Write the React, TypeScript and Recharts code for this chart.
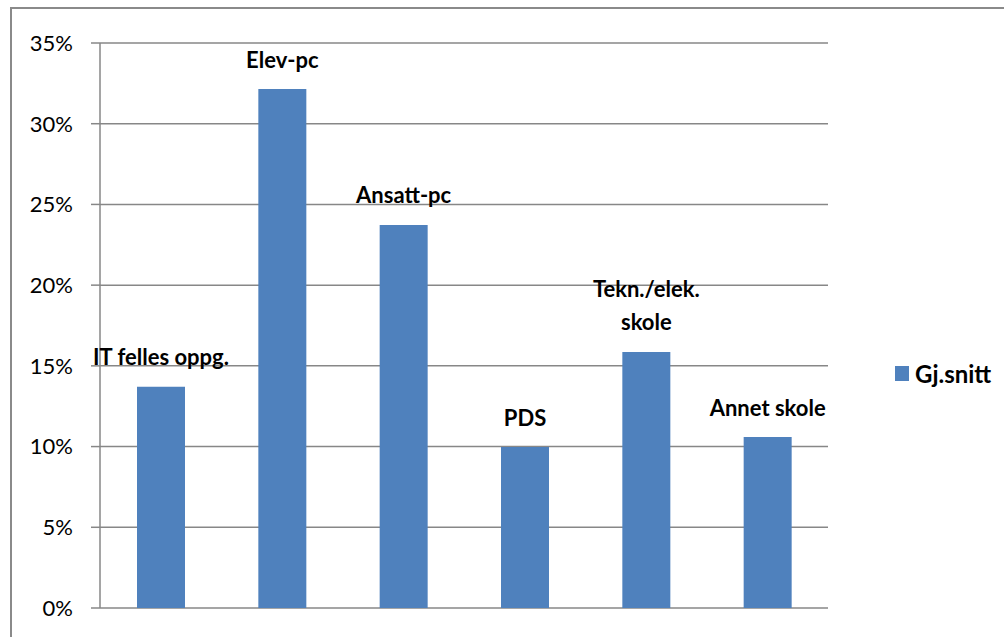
import { BarChart, Bar, XAxis, YAxis, CartesianGrid, LabelList } from "recharts";

const categories = [
  "IT felles oppg.",
  "Elev-pc",
  "Ansatt-pc",
  "PDS",
  "Tekn./elek. skole",
  "Annet skole",
];
const gjSnitt = [0.137, 0.3215, 0.2373, 0.0997, 0.1586, 0.1059];
const yTicks = [0, 0.05, 0.1, 0.15, 0.2, 0.25, 0.3, 0.35];
const seriesName = "Gj.snitt";

const data = categories.map((name, i) => ({ name, value: gjSnitt[i] }));

const FONT = "Lato, 'Open Sans', sans-serif";

const renderLabel = (props: any) => {
  const { x, y, width, value } = props;
  const text = String(value);
  let lines = [text];
  if (text.length > 15) {
    const cut = text.lastIndexOf(" ");
    lines = [text.slice(0, cut), text.slice(cut + 1)];
  }
  const cx = x + width / 2;
  return (
    <g>
      {lines.map((line, i) => (
        <text
          key={i}
          x={cx}
          y={y - 30 - (lines.length - 1 - i) * 33}
          textAnchor="middle"
          dominantBaseline="central"
          fontFamily={FONT}
          fontWeight="bold"
          fontSize={22}
          fill="#000"
        >
          {line}
        </text>
      ))}
    </g>
  );
};

export default function App() {
  return (
    <div style={{ position: "fixed", left: 0, top: 0, width: 1004, height: 637, background: "#fff", overflow: "hidden" }}>
      <div
        style={{
          position: "absolute",
          left: 10,
          top: 7,
          width: 1100,
          height: 700,
          border: "2px solid #8a8a8a",
        }}
      />
      <div style={{ position: "absolute", left: 0, top: 0 }}>
        <BarChart
          width={1004}
          height={637}
          data={data}
          margin={{ top: 43, right: 176, bottom: 29, left: 0 }}
          barSize={48}
        >
          <CartesianGrid vertical={false} stroke="#878787" strokeWidth={1.5} />
          <XAxis dataKey="name" hide />
          <YAxis
            width={100}
            domain={[0, 0.35]}
            ticks={yTicks}
            interval={0}
            tickFormatter={(v: number) => `${Math.round(v * 100)}%`}
            axisLine={{ stroke: "#878787", strokeWidth: 1.5 }}
            tickLine={{ stroke: "#878787", strokeWidth: 1.5 }}
            tickSize={9}
            tickMargin={18}
            tick={{ fill: "#000", fontSize: 22, fontFamily: FONT }}
          />
          <Bar dataKey="value" name={seriesName} fill="#4F81BD" isAnimationActive={false}>
            <LabelList dataKey="name" content={renderLabel} />
          </Bar>
        </BarChart>
      </div>
      <div
        style={{
          position: "absolute",
          left: 895,
          top: 359,
          display: "flex",
          alignItems: "center",
          fontFamily: FONT,
          whiteSpace: "nowrap",
        }}
      >
        <span style={{ width: 14, height: 15, background: "#4F81BD", display: "inline-block" }} />
        <span style={{ marginLeft: 6, fontWeight: "bold", fontSize: 24, color: "#000" }}>{seriesName}</span>
      </div>
    </div>
  );
}
